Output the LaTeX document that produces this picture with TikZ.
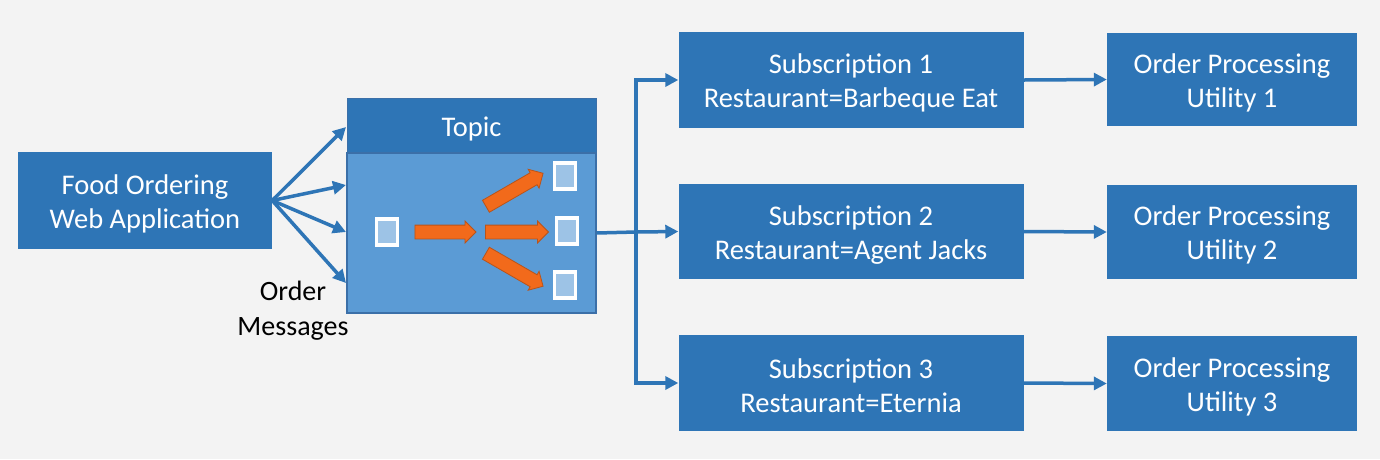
\documentclass[tikz,border=0pt]{standalone}
\usepackage{fontspec}
\setmainfont{Carlito}
\usetikzlibrary{arrows.meta,shapes.arrows}
\definecolor{bg}{HTML}{F3F3F3}
\definecolor{dblue}{HTML}{2E75B6}
\definecolor{lblue}{HTML}{5B9BD5}
\definecolor{sqblue}{HTML}{9DC3E6}
\definecolor{borange}{HTML}{F26A1B}
\definecolor{dorange}{HTML}{B9541A}
\definecolor{bodyedge}{HTML}{3B6FA8}
\newcommand\lowr{\rule{0pt}{26pt}}
\begin{document}
\begin{tikzpicture}[x=1pt,y=-1pt,
  box/.style={fill=dblue,text=white,align=center,inner sep=0pt,
    font=\fontsize{28.5}{34}\selectfont},
  arr/.style={draw=dblue,line width=3.5pt,-{Triangle[length=13pt,width=13pt]}},
  msg/.style={fill=sqblue,draw=white,line width=3.2pt,minimum width=21pt,minimum height=26pt,inner sep=0pt},
  blk/.style={single arrow,fill=borange,draw=dorange,line width=0.8pt,inner xsep=0pt,inner ysep=6.5pt,
    single arrow head extend=4pt,single arrow tip angle=90,text width=0pt}
]
\fill[bg] (0,0) rectangle (1380,459);
\useasboundingbox (0,0) rectangle (1380,459);

% Food ordering app
\node[box,minimum width=254pt,minimum height=97pt] (food) at (145,200.5) {\lowr Food Ordering\\Web Application};

% Topic
\node[box,draw=bodyedge,line width=1pt,minimum width=249pt,minimum height=55pt] (topichead) at (471.5,125.5) {\lowr Topic};
\node[fill=lblue,draw=bodyedge,line width=1.2pt,minimum width=249pt,minimum height=160pt,inner sep=0pt] (topicbody) at (471.5,233) {};

% messages inside topic
\node[msg] (m0) at (387,232) {};
\node[msg] (m1) at (565,176) {};
\node[msg] (m2) at (567,231) {};
\node[msg] (m3) at (565,285) {};

\node[blk,minimum height=61pt] (b1) at (442,232) {};
\node[blk,minimum height=63pt] (b2) at (513.5,232) {};
\node[blk,minimum height=66pt,rotate=30] (b3) at (511.5,191.5) {};
\node[blk,minimum height=66pt,rotate=-30] (b4) at (511.5,268) {};

% fan arrows
\coordinate (t1) at (346,127);
\coordinate (t2) at (346,185);
\coordinate (t3) at (346,232);
\coordinate (t4) at (346,283);
\foreach \t in {t1,t2,t3,t4}{\draw[arr] (food.east) -- (\t);}

\node[align=center,font=\fontsize{28}{35}\selectfont,inner sep=0pt] (ordmsg) at (293,307) {\lowr Order\\Messages};

% Subscriptions
\node[box,minimum width=345pt,minimum height=96pt] (sub1) at (851,80) {\lowr Subscription 1\\Restaurant=Barbeque Eat};
\node[box,minimum width=345pt,minimum height=95pt] (sub2) at (851,231.5) {\lowr Subscription 2\\Restaurant=Agent Jacks};
\node[box,minimum width=345pt,minimum height=96pt] (sub3) at (851,383) {\lowr Subscription 3\\Restaurant=Eternia};

% Order processing
\node[box,minimum width=250pt,minimum height=93pt] (op1) at (1232,79.5) {\lowr Order Processing\\Utility 1};
\node[box,minimum width=250pt,minimum height=94pt] (op2) at (1232,232) {\lowr Order Processing\\Utility 2};
\node[box,minimum width=250pt,minimum height=95pt] (op3) at (1232,383.5) {\lowr Order Processing\\Utility 3};

% branch
\coordinate (br) at (636,232);
\draw[draw=dblue,line width=3.5pt] (topicbody.east) -- (br);
\draw[arr] (br) |- (sub1.west);
\draw[arr] (br) -- (sub2.west);
\draw[arr] (br) |- (sub3.west);

\draw[arr] (sub1.east) -- (op1.west);
\draw[arr] (sub2.east) -- (op2.west);
\draw[arr] (sub3.east) -- (op3.west);
\end{tikzpicture}
\end{document}
